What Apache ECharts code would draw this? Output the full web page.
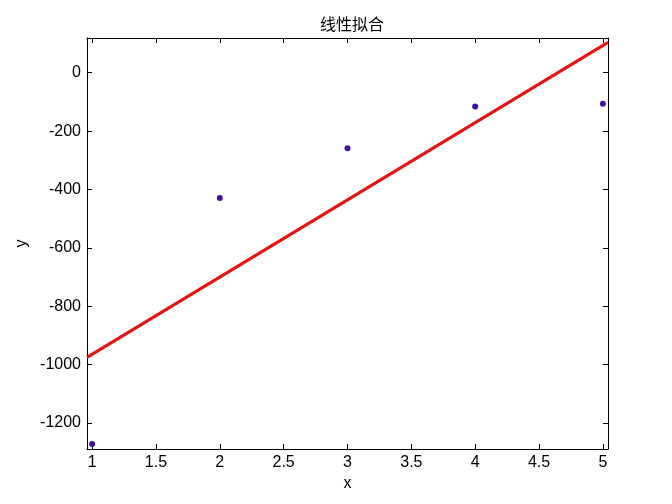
<!DOCTYPE html>
<html>
<head>
<meta charset="utf-8">
<script src="https://cdn.jsdelivr.net/npm/echarts@6/dist/echarts.min.js"></script>
<style>html,body{margin:0;padding:0;background:#fff;}#c{width:672px;height:504px;}</style>
</head>
<body>
<div id="c"></div>
<script>
var titleText = '线性拟合';
var pointX = [1, 2, 3, 4, 5];
var pointY = [-1272, -429, -259, -116, -106];
var fitX = [0.96, 5.04];
var fitY = [-975, 104];
var xTicks = [1, 1.5, 2, 2.5, 3, 3.5, 4, 4.5, 5];
var yTicks = [-1200, -1000, -800, -600, -400, -200, 0];

var chart = echarts.init(document.getElementById('c'));
var font = 'Liberation Sans, Arial, sans-serif';
function axisBase(pos, ticks, show) {
  return {
    type: 'value', position: pos,
    axisLine: { show: true, onZero: false, lineStyle: { color: '#000', width: 1 } },
    axisTick: { show: true, inside: true, length: 5, lineStyle: { color: '#000' }, customValues: ticks },
    axisLabel: { show: show, color: '#000', fontFamily: font, fontSize: 16, margin: 6, customValues: ticks,
      formatter: function (v) { return String(v); } },
    splitLine: { show: false }
  };
}
var xa = axisBase('bottom', xTicks, true);
xa.min = 0.96; xa.max = 5.04; xa.name = 'x'; xa.nameLocation = 'middle'; xa.nameGap = 26;
xa.nameTextStyle = { color: '#000', fontFamily: font, fontSize: 16 };
var xt = axisBase('top', xTicks, false); xt.min = 0.96; xt.max = 5.04;
var ya = axisBase('left', yTicks, true);
ya.min = -1289; ya.max = 119; ya.name = 'y'; ya.nameLocation = 'middle'; ya.nameGap = 48;
ya.nameTextStyle = { color: '#000', fontFamily: font, fontSize: 16 };
var yr = axisBase('right', yTicks, false); yr.min = -1289; yr.max = 119;

chart.setOption({
  animation: false,
  backgroundColor: '#fff',
  title: { text: titleText, left: 347, top: 11, textAlign: 'center',
    textStyle: { fontFamily: 'Noto Sans CJK SC', fontSize: 16, fontWeight: 'normal', color: '#000' } },
  grid: { left: 87, right: 64, top: 38, bottom: 55, containLabel: false },
  xAxis: [xa, xt],
  yAxis: [ya, yr],
  series: [
    { type: 'line', xAxisIndex: 0, yAxisIndex: 0, data: fitX.map(function (x, i) { return [x, fitY[i]]; }),
      showSymbol: false, symbol: 'none', lineStyle: { color: '#e81010', width: 3 }, z: 2 },
    { type: 'scatter', xAxisIndex: 0, yAxisIndex: 0, data: pointX.map(function (x, i) { return [x, pointY[i]]; }),
      symbol: 'circle', symbolSize: 6, itemStyle: { color: '#4210a0', opacity: 1 }, z: 3 }
  ]
});
</script>
</body>
</html>
